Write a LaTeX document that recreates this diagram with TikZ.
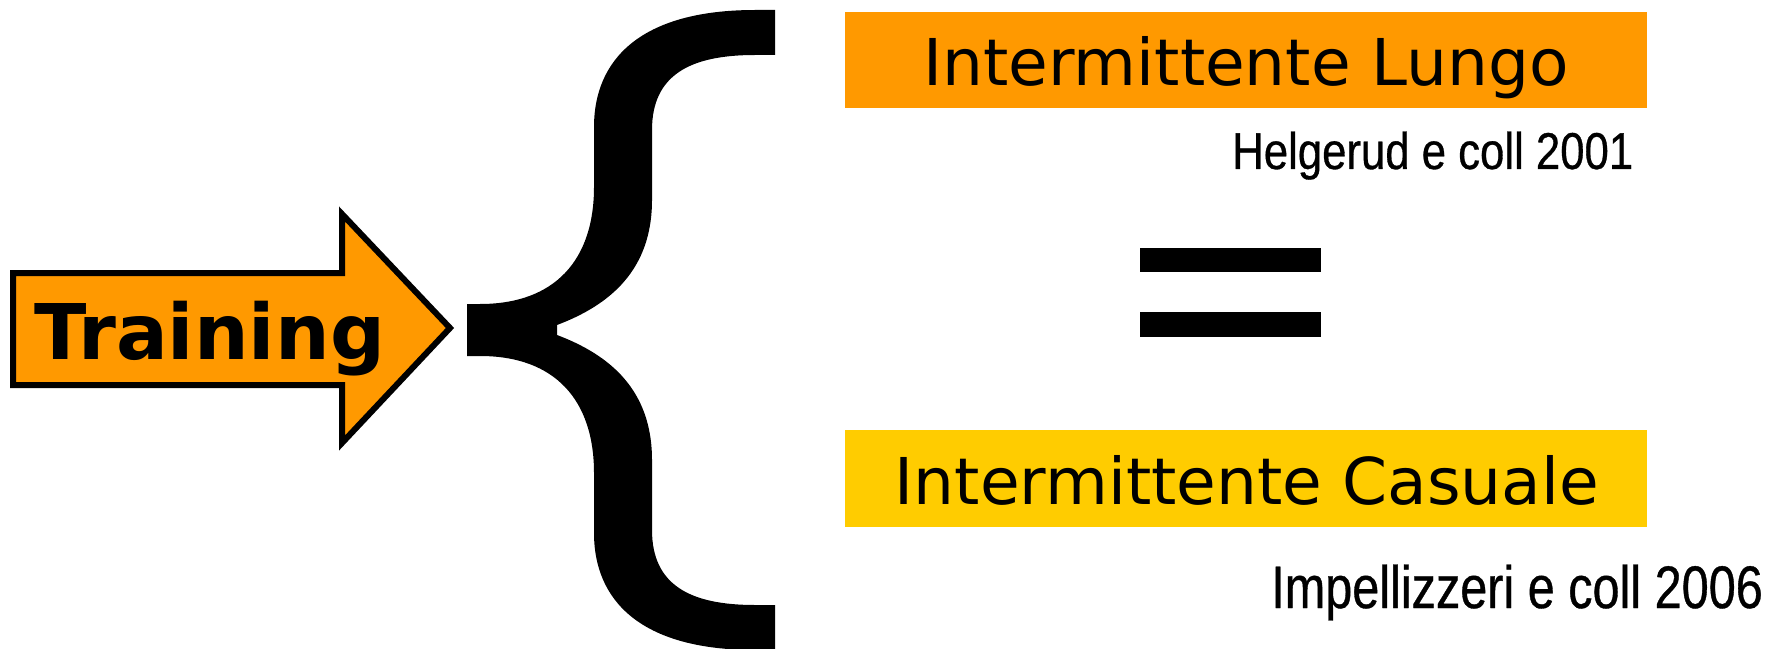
\documentclass[tikz,border=0pt]{standalone}
\usepackage{fontspec}
\usepackage{graphicx}
\newfontfamily\dejavu{DejaVu Sans}
\newfontfamily\narrowfont[FakeStretch=0.81, FakeBold=0.6]{Liberation Sans}
\newfontfamily\narrowfontwide[FakeStretch=0.845, FakeBold=0.6]{Liberation Sans}
\definecolor{boxorange}{HTML}{FF9900}
\definecolor{boxyellow}{HTML}{FFCC00}
\tikzset{
  banner/.style={rectangle, inner sep=0pt, minimum width=601.5pt, minimum height=72.5pt},
  bannertext/.style={anchor=base, inner sep=0pt, font=\dejavu\fontsize{48.4pt}{50pt}\selectfont},
  citation/.style={anchor=base west, inner sep=0pt},
}
\begin{document}
\begin{tikzpicture}[x=0.75pt, y=-0.75pt]
\useasboundingbox (0,0) rectangle (1767,649);

% block arrow
\filldraw[fill=boxorange, draw=black, line width=4.5pt, line join=miter, miter limit=20]
  (13,273) -- (342,273) -- (342,214) -- (450,328) -- (342,443) -- (342,385) -- (13,385) -- cycle;
\node[anchor=base west, inner sep=0pt, font=\dejavu\bfseries\fontsize{57.6pt}{60pt}\selectfont]
  (training) at (34,359) {Training};

% curly brace
\fill[black]
  (775,10) -- (775,55) -- (755,55) .. controls (690,55) and (652,75) .. (652,130)
  -- (652,200) .. controls (652,270) and (610,305) .. (557,325)
  -- (557,335) .. controls (610,355) and (652,390) .. (652,460)
  -- (652,530) .. controls (652,585) and (690,605) .. (755,605)
  -- (775,605) -- (775,650) -- (755,650) .. controls (640,650) and (594,600) .. (594,533)
  -- (594,473) .. controls (594,400) and (555,356) .. (480,356)
  -- (467,356) -- (467,304) -- (480,304) .. controls (555,304) and (594,260) .. (594,187)
  -- (594,127) .. controls (594,60) and (640,10) .. (755,10) -- cycle;

% coloured banners
\node[banner, fill=boxorange] (lungo) at (1246,60) {};
\node[bannertext] (lungotext) at (1246,86) {Intermittente Lungo};
\node[banner, fill=boxyellow] (casuale) at (1246,478.5) {};
\node[bannertext] (casualetext) at (1247,504) {Intermittente Casuale};

% citations
\node[citation, font=\narrowfontwide\fontsize{38.8pt}{40pt}\selectfont]
  (helgerud) at (1232,169) {Helgerud e coll 2001};
\node[citation, font=\narrowfont\fontsize{45pt}{47pt}\selectfont]
  (impellizzeri) at (1271,608) {Impellizzeri e coll 2006};

% equals sign
\fill[black] (1140,248) rectangle (1321,272);
\fill[black] (1140,312) rectangle (1321,337);
\end{tikzpicture}
\end{document}
